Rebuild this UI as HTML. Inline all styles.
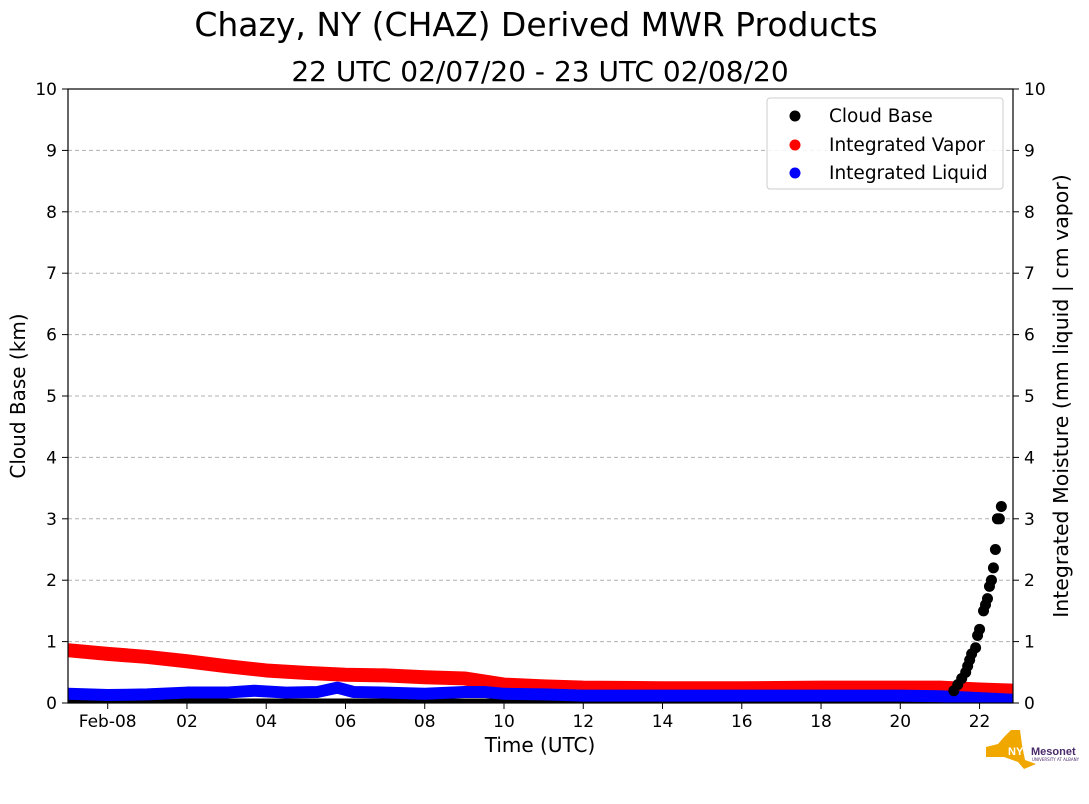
<!DOCTYPE html>
<html><head><meta charset="utf-8"><style>
body{margin:0;background:#fff;}
svg{display:block;font-family:"DejaVu Sans","Liberation Sans",sans-serif;}
</style></head><body>
<svg id="chart" width="1089" height="804" viewBox="0 0 1089 804">
<defs><clipPath id="pc"><rect x="68" y="89" width="945" height="614"/></clipPath></defs>
<text x="536" y="36" font-size="33" text-anchor="middle">Chazy, NY (CHAZ) Derived MWR Products</text>
<text x="540" y="81" font-size="28" text-anchor="middle">22 UTC 02/07/20 - 23 UTC 02/08/20</text>
<g id="grid"></g>
<g id="series" clip-path="url(#pc)"></g>
<g id="points"></g>
<rect x="68" y="89" width="945" height="614" fill="none" stroke="#000" stroke-width="1.2"/>
<g id="axes" font-size="17"></g>
<text x="25" y="396" font-size="20" text-anchor="middle" transform="rotate(-90 25 396)">Cloud Base (km)</text>
<text x="1068" y="396" font-size="20.5" text-anchor="middle" transform="rotate(-90 1068 396)">Integrated Moisture (mm liquid | cm vapor)</text>
<text x="540" y="752" font-size="20" text-anchor="middle">Time (UTC)</text>
<g>
<rect x="767" y="98" width="236" height="91" rx="3" fill="#fff" fill-opacity="0.85" stroke="#ccc"/>
<g><circle cx="795" cy="116" r="5.5" fill="#000"/><text x="829" y="122" font-size="18.5">Cloud Base</text></g>
<g><circle cx="795" cy="145" r="5.5" fill="#f00"/><text x="829" y="151" font-size="18.5">Integrated Vapor</text></g>
<g><circle cx="795" cy="173" r="5.5" fill="#00f"/><text x="829" y="179" font-size="18.5">Integrated Liquid</text></g>
</g>
<g>
<path d="M986 747 L998 744 L1004 737 L1011 730 L1020 730 L1022 745 L1025 760 L1036 764 L1024 769 L1018 762 L1004 757 L986 757 Z" fill="#f0a800"/>
<text x="1008" y="755" font-size="11" font-weight="bold" fill="#fff" font-family="Liberation Sans, sans-serif">NYS</text>
<text x="1031" y="755" font-size="11" font-weight="bold" fill="#4b2a6b" font-family="Liberation Sans, sans-serif">Mesonet</text>
<text x="1032" y="761" font-size="4" fill="#4b2a6b">UNIVERSITY AT ALBANY</text>
</g>
</svg>
<script>
const xTickHours=[0,2,4,6,8,10,12,14,16,18,20,22];
const xTickLabels=["Feb-08","02","04","06","08","10","12","14","16","18","20","22"];
const yTicks=[0,1,2,3,4,5,6,7,8,9,10];
const vaporHours=[-1,0,1,2,3,4,5,6,7,8,9,10,11,12,14,16,18,20,21,22,22.9];
const vaporValues=[0.86,0.8,0.75,0.68,0.6,0.53,0.49,0.46,0.45,0.42,0.4,0.3,0.27,0.25,0.24,0.24,0.25,0.25,0.25,0.22,0.2];
const liquidHours=[-1,0,1,2,3,3.7,4.5,5.3,5.8,6.2,7,8,9,9.5,10,11,12,14,16,18,20,21,22,22.9];
const liquidValues=[0.15,0.13,0.14,0.17,0.17,0.2,0.17,0.18,0.25,0.18,0.17,0.15,0.18,0.18,0.15,0.14,0.12,0.12,0.12,0.12,0.12,0.11,0.08,0.05];
const cloudHours=[21.35,21.45,21.55,21.65,21.7,21.75,21.8,21.9,21.95,22.0,22.1,22.15,22.2,22.25,22.3,22.35,22.4,22.45,22.5,22.55];
const cloudValues=[0.2,0.3,0.4,0.5,0.6,0.7,0.8,0.9,1.1,1.2,1.5,1.6,1.7,1.9,2.0,2.2,2.5,3.0,3.0,3.2];
const NS="http://www.w3.org/2000/svg";
const X=h=>107.7+h*39.63;
const Y=v=>703-v*61.4;
function mk(tag,attrs,parent){const e=document.createElementNS(NS,tag);for(const k in attrs)e.setAttribute(k,attrs[k]);parent.appendChild(e);return e;}
const grid=document.getElementById('grid'),axes=document.getElementById('axes'),ser=document.getElementById('series'),pts=document.getElementById('points');
yTicks.forEach(v=>{
  if(v>0&&v<10){const g=mk('line',{x1:68,x2:1013,y1:Y(v),y2:Y(v),stroke:'#b0b0b0','stroke-dasharray':'4,3'},grid);
  
  }
  mk('line',{x1:62,x2:68,y1:Y(v),y2:Y(v),stroke:'#000'},axes);
  mk('line',{x1:1013,x2:1019,y1:Y(v),y2:Y(v),stroke:'#000'},axes);
  const t=mk('text',{x:57,y:Y(v)+6,'text-anchor':'end'},axes);t.textContent=v;
  
  
  const t2=mk('text',{x:1024,y:Y(v)+6},axes);t2.textContent=v;
  
  
});
xTickHours.forEach((h,i)=>{
  mk('line',{x1:X(h),x2:X(h),y1:703,y2:709,stroke:'#000'},axes);
  const t=mk('text',{x:X(h),y:727,'text-anchor':'middle'},axes);t.textContent=xTickLabels[i];
  
  
});
function band(hs,vs,color,w,name){
  const p=mk('polyline',{points:hs.map((h,i)=>X(h)+','+Y(vs[i])).join(' '),fill:'none',stroke:color,'stroke-width':w,'stroke-linejoin':'round','stroke-linecap':'square'},ser);
  
  
}
const base=mk('line',{x1:68,x2:X(21.3),y1:Y(0)-2,y2:Y(0)-2,stroke:'#000','stroke-width':5},ser);


band(vaporHours,vaporValues,'#f00',14,'integrated-vapor-series');
band(liquidHours,liquidValues,'#00f',12,'integrated-liquid-series');
cloudHours.forEach((h,i)=>{
  const c=mk('circle',{cx:X(h),cy:Y(cloudValues[i]),r:5.5,fill:'#000'},pts);
  
  
});
</script>
</body></html>
